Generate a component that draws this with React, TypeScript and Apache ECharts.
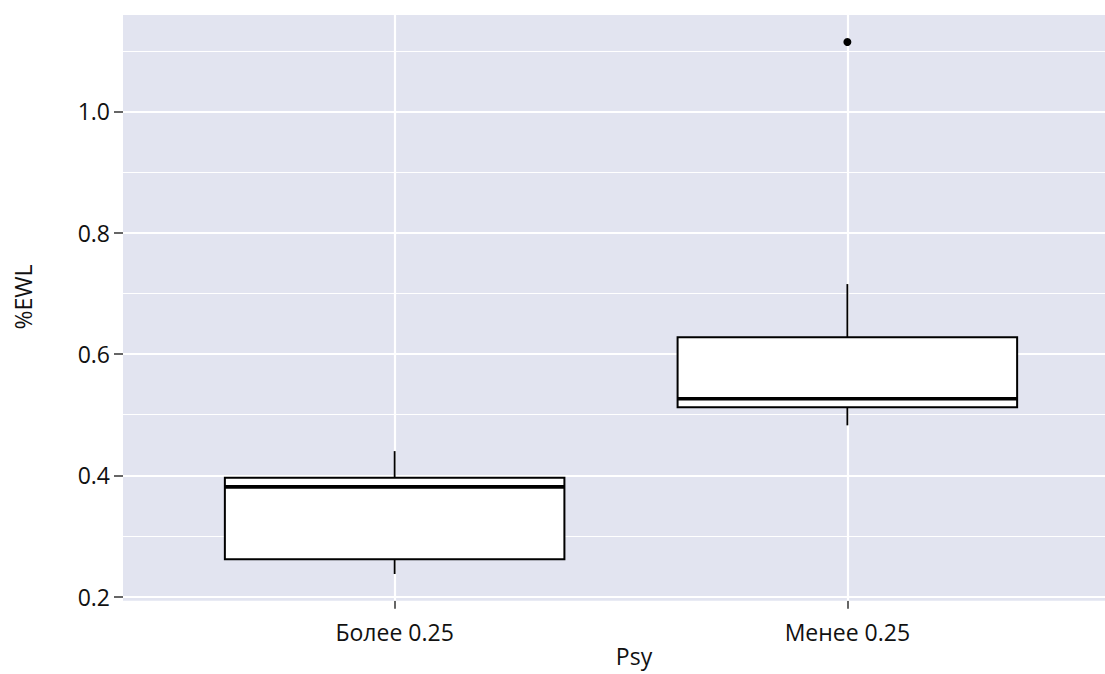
import React, { useEffect, useRef } from "react";
import * as echarts from "echarts";

const categories = ["Более 0.25", "Менее 0.25"];
const categoryPositions = [1, 2];
// [position, min, q1, median, q3, max]
const boxStats = [
  [1, 0.2374, 0.2617, 0.381, 0.396, 0.44],
  [2, 0.4825, 0.5122, 0.5264, 0.6276, 0.7154],
];
const outliers = [[2, 1.1146]];
const yMajorTicks = [0.2, 0.4, 0.6, 0.8, 1.0];
const yMinorTicks = [0.3, 0.5, 0.7, 0.9, 1.1];

const FONT = "'Open Sans', 'Noto Sans', sans-serif";

export default function App() {
  const ref = useRef<HTMLDivElement>(null);
  useEffect(() => {
    if (!ref.current) return;
    const chart = echarts.init(ref.current, null, { renderer: "svg" });
    const boxHalf = 0.375;
    chart.setOption({
      animation: false,
      grid: {
        left: 123,
        top: 15,
        width: 996,
        height: 585.7,
        show: true,
        backgroundColor: "#E2E4F0",
        borderWidth: 0,
      },
      xAxis: {
        type: "value",
        min: 0.4,
        max: 2.6,
        axisLine: { show: false },
        splitLine: { show: false },
        axisTick: {
          show: true,
          customValues: categoryPositions,
          length: 8,
          lineStyle: { color: "#333", width: 1.5 },
        },
        axisLabel: {
          customValues: categoryPositions,
          margin: 20,
          fontSize: 23,
          fontFamily: FONT,
          color: "#111",
          formatter: (v: number) => {
            const i = categoryPositions.indexOf(Math.round(v));
            return i >= 0 ? categories[i] : "";
          },
        },
      },
      yAxis: {
        type: "value",
        min: 0.1934,
        max: 1.159,
        axisLine: { show: false },
        splitLine: { show: false },
        axisTick: {
          show: true,
          customValues: yMajorTicks,
          length: 9,
          lineStyle: { color: "#333", width: 1.5 },
        },
        axisLabel: {
          customValues: yMajorTicks,
          margin: 13,
          fontSize: 23,
          fontFamily: FONT,
          color: "#111",
          formatter: (v: number) => v.toFixed(1),
        },
      },
      series: [
        {
          type: "line",
          data: [],
          z: 1,
          silent: true,
          markLine: {
            silent: true,
            symbol: "none",
            label: { show: false },
            animation: false,
            data: [
              ...yMinorTicks.map((v) => ({
                yAxis: v,
                lineStyle: { color: "#FFFFFF", width: 1.2, type: "solid" },
              })),
              ...yMajorTicks.map((v) => ({
                yAxis: v,
                lineStyle: { color: "#FFFFFF", width: 2.2, type: "solid" },
              })),
              ...categoryPositions.map((v) => ({
                xAxis: v,
                lineStyle: { color: "#FFFFFF", width: 2.2, type: "solid" },
              })),
            ],
          },
        },
        {
          type: "custom",
          z: 5,
          data: boxStats,
          renderItem: (params: any, api: any) => {
            const x = api.value(0);
            const mn = api.value(1);
            const q1 = api.value(2);
            const md = api.value(3);
            const q3 = api.value(4);
            const mx = api.value(5);
            const pMax = api.coord([x, mx]);
            const pMin = api.coord([x, mn]);
            const pQ3 = api.coord([x, q3]);
            const pQ1 = api.coord([x, q1]);
            const tl = api.coord([x - boxHalf, q3]);
            const br = api.coord([x + boxHalf, q1]);
            const mL = api.coord([x - boxHalf, md]);
            const mR = api.coord([x + boxHalf, md]);
            return {
              type: "group",
              children: [
                {
                  type: "line",
                  shape: { x1: pQ3[0], y1: pQ3[1], x2: pMax[0], y2: pMax[1] },
                  style: { stroke: "#000", lineWidth: 1.8 },
                },
                {
                  type: "line",
                  shape: { x1: pQ1[0], y1: pQ1[1], x2: pMin[0], y2: pMin[1] },
                  style: { stroke: "#000", lineWidth: 1.8 },
                },
                {
                  type: "rect",
                  shape: {
                    x: tl[0],
                    y: tl[1],
                    width: br[0] - tl[0],
                    height: br[1] - tl[1],
                  },
                  style: { fill: "#FFFFFF", stroke: "#000", lineWidth: 2 },
                },
                {
                  type: "line",
                  shape: { x1: mL[0], y1: mL[1], x2: mR[0], y2: mR[1] },
                  style: { stroke: "#000", lineWidth: 3.6 },
                },
              ],
            };
          },
        },
        {
          type: "scatter",
          z: 6,
          data: outliers,
          symbol: "circle",
          symbolSize: 8,
          itemStyle: { color: "#000", opacity: 1 },
        },
      ],
      graphic: [
        {
          type: "text",
          x: 634,
          y: 656,
          style: {
            text: "Psy",
            fontSize: 23,
            fontFamily: FONT,
            fill: "#111",
            align: "center",
            verticalAlign: "middle",
          },
        },
        {
          type: "text",
          x: 23,
          y: 297,
          rotation: Math.PI / 2,
          style: {
            text: "%EWL",
            fontSize: 23,
            fontFamily: FONT,
            fill: "#111",
            align: "center",
            verticalAlign: "middle",
          },
        },
      ],
    });
    return () => chart.dispose();
  }, []);
  return (
    <div
      style={{
        position: "fixed",
        left: 0,
        top: 0,
        width: 1105,
        height: 674,
        overflow: "hidden",
        background: "#fff",
      }}
    >
      <div ref={ref} style={{ width: 1130, height: 674 }} />
    </div>
  );
}
